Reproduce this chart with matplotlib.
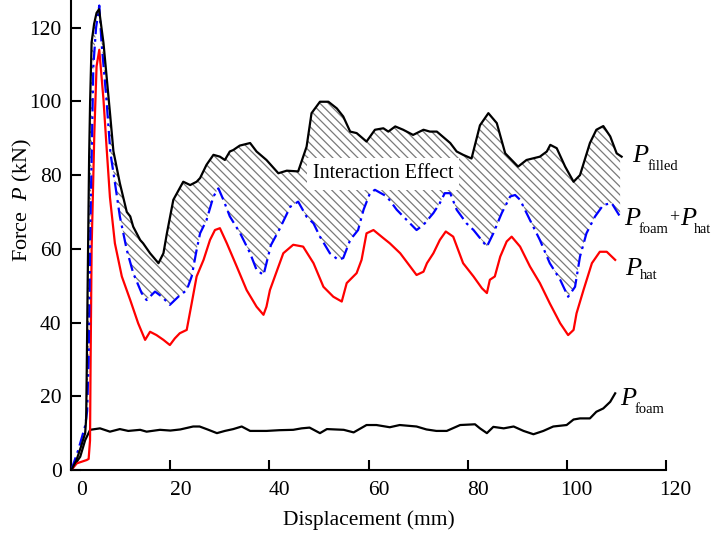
import numpy as np
import matplotlib
matplotlib.use('Agg')
import matplotlib.pyplot as plt
from matplotlib.transforms import ScaledTranslation

plt.rcParams['font.family'] = ['Liberation Serif', 'DejaVu Serif']
plt.rcParams['mathtext.fontset'] = 'custom'
plt.rcParams['mathtext.rm'] = 'Liberation Serif'
plt.rcParams['mathtext.it'] = 'Liberation Serif:italic'
plt.rcParams['hatch.linewidth'] = 0.9

# ---- data ----
filled_x = [0, 1, 2, 2.8, 3.0, 3.1, 3.3, 3.6, 3.8, 4.1, 4.6, 5.1, 5.6, 6.5, 7.8, 8.5, 9.8,
            11.2, 11.9, 12.5, 13.9, 14.5, 15.9, 17.6, 18.6, 19.3, 20.6, 22.6, 24, 25.3, 26,
            27.3, 28.7, 30, 31, 32, 32.7, 34, 36.1, 37.4, 39.4, 41.8, 43.5, 45.8, 47.5, 48.5,
            50.2, 51.9, 53.6, 54.9, 56.3, 57.6, 59.6, 61.3, 63, 64, 65.4, 67, 69, 71.1, 72.4,
            73.8, 76.5, 77.8, 79.1, 80.8, 82.5, 84.2, 85.9, 87.6, 90.2, 91.9, 94.6, 96, 96.7,
            98, 99.7, 101.4, 102.7, 104.7, 106, 107.4, 108.8, 110.1, 111.1]
filled_y = [0, 2.5, 6.5, 10, 14, 25, 50, 85, 100, 116, 121, 124, 125, 115.8, 97, 86.5, 77.8,
            70, 68.8, 66, 62.4, 61.5, 58.8, 56.1, 58.8, 64.2, 73.3, 78.2, 77.3, 78.2, 79.2,
            82.8, 85.5, 85, 84.1, 86.4, 86.8, 88, 88.7, 86.4, 84.1, 80.5, 81.2, 81, 87.7, 96.8,
            99.9, 99.9, 98.1, 95.9, 91.8, 91.4, 89.1, 92.3, 92.7, 91.8, 93.2, 92.3, 90.9, 92.3,
            91.8, 91.8, 88.7, 86.4, 85.5, 84.5, 93.5, 96.8, 94.1, 85.9, 82.3, 84.1, 85, 86.4,
            88.2, 87.3, 82.3, 78.2, 80, 88.7, 92.3, 93.3, 90.5, 85.9, 85]

sum_x = [0, 1.4, 2.8, 3.2, 3.5, 3.9, 4.45, 5.0, 5.65, 6.1, 7.1, 7.9, 8.8, 9.8, 11.2, 12.5,
         14.2, 15.2, 16.9, 18.3, 19.9, 21.6, 23.3, 24.3, 25.3, 26, 27.3, 28.7, 29.7, 30.7, 32,
         34.1, 36.1, 37.4, 38.8, 39.4, 40.3, 42.1, 44.2, 45.8, 47.5, 48.9, 50.2, 52.2, 53.9,
         54.9, 56.3, 57.9, 59, 60.3, 61.3, 63.7, 65.7, 67, 69.7, 71.1, 73.1, 74.4, 75.4, 76.5,
         77.8, 79.8, 81.2, 83.9, 85.2, 86.9, 88.6, 89.6, 90.6, 92.6, 94.6, 96.6, 98.7, 100.3,
         101.7, 102.7, 104, 105.7, 107.4, 109.1, 110.8]
sum_y = [0, 5.4, 12, 16, 30, 70, 109.5, 120, 126, 116, 100.4, 86, 78, 68.8, 59.7, 53.4,
         48, 46.1, 48.4, 47, 44.8, 47, 48.8, 52.5, 59.7, 64.2, 67.8, 74.2, 76.4, 73.3, 68.8,
         64.2, 58.8, 54.3, 52.9, 56.1, 61, 65.5, 71.4, 72.8, 68.7, 66.9, 63.3, 58.8, 57,
         57.5, 62.4, 65.1, 70.6, 75.1, 76, 74.2, 70.6, 68.8, 65.1, 66.5, 69.7, 72.4, 75.1, 75.1,
         70.6, 66.9, 65.1, 60.6, 64.2, 69.7, 74.2, 74.6, 73.3, 67.8, 62.4, 56.1, 51.6, 47,
         49.7, 57.9, 64.2, 68.7, 71.9, 72.4, 68.7]

hat_x = [0, 1.1, 3.1, 3.5, 3.78, 3.9, 4.1, 4.65, 5.1, 5.65, 6.5, 7.1, 7.8, 8.8, 10.2, 11.9,
         13.5, 14.9, 15.9, 17.2, 18.6, 19.9, 20.9, 21.9, 23.3, 24.3, 25.3, 26.7, 28, 29, 30,
         31.4, 33.4, 35.4, 37.4, 38.8, 39.4, 40.1, 41.5, 42.8, 44.8, 46.8, 48.9, 50.9, 52.9,
         54.6, 55.6, 57.6, 58.6, 59.6, 61, 63, 64.3, 66.4, 69.7, 71.1, 71.8, 73.1, 74.4, 75.6,
         77.1, 79.1, 81.2, 82.9, 83.9, 84.5, 85.5, 86.6, 87.9, 88.9, 90.6, 92.6, 94.6, 96.6,
         98.7, 100.3, 101.4, 102, 103.4, 105.1, 106.7, 108.1, 109.8]
hat_y = [0, 1.8, 2.7, 3, 8, 30, 60, 91.4, 109.5, 114, 100.4, 88, 74, 61.5, 52.5, 46.1,
         39.8, 35.3, 37.5, 36.6, 35.3, 33.9, 35.7, 37.1, 38, 45.2, 52.5, 57, 62.4, 65.1, 65.6,
         61.5, 55.2, 48.8, 44.3, 42.1, 44.3, 48.8, 54, 58.8, 61.1, 60.6, 56.1, 49.7, 47,
         45.7, 50.7, 53.4, 57, 64.2, 65.1, 62.9, 61.5, 58.8, 52.9, 53.8, 56.1, 58.8, 62.4, 64.7,
         63.3, 56.1, 52.5, 49.3, 48, 51.6, 52.5, 57.9, 62, 63.3, 60.6, 55.2, 50.7, 45.2,
         39.8, 36.6, 38, 42.5, 48.8, 56.1, 59.2, 59.2, 57]

foam_x = [0, 0.4, 1.8, 2.8, 3.8, 5.8, 7.8, 9.8, 11.5, 13.9, 15.2, 17.9, 20, 22, 24.6, 25.9,
          27.5, 29.4, 31, 32.7, 34.4, 36.1, 39.4, 42, 44.8, 46.5, 48.1, 50.2, 51.6, 55, 57,
          59.6, 61.6, 64.3, 66.3, 69.7, 71.7, 73.7, 75.8, 78.5, 81.5, 82.5, 83.9, 85.2, 87.3,
          89.3, 91.3, 93.3, 95.3, 97.3, 100, 101.4, 102.7, 104.7, 106, 107.4, 108.8, 109.8]
foam_y = [0, 0.9, 3.6, 8.1, 10.9, 11.3, 10.4, 11.1, 10.6, 10.9, 10.4, 10.9, 10.7, 11.0, 11.8,
          11.8, 11.0, 10.0, 10.6, 11.1, 11.8, 10.6, 10.6, 10.8, 10.9, 11.3, 11.5, 10.0, 11.1,
          10.9, 10.2, 12.2, 12.2, 11.6, 12.2, 11.8, 11.0, 10.6, 10.6, 12.2, 12.4, 11.3, 10.0,
          11.7, 11.3, 11.8, 10.6, 9.7, 10.6, 11.8, 12.2, 13.7, 14.0, 14.0, 15.8, 16.7, 18.5, 20.8]

x_ticks = [0, 20, 40, 60, 80, 100, 120]
y_ticks = [0, 20, 40, 60, 80, 100, 120]

# ---- figure ----
fig = plt.figure(figsize=(7.15, 5.33), dpi=100)
ax = fig.add_axes([71.3 / 715, 63 / 533, 594.4 / 715, 470 / 533])

# hatched interaction region between P_filled and P_foam+P_hat
grid = np.union1d(filled_x, sum_x)
grid = grid[grid <= min(filled_x[-1], sum_x[-1])]
top = np.interp(grid, filled_x, filled_y)
bot = np.interp(grid, sum_x, sum_y)
ax.fill_between(grid, bot, top, where=top >= bot, interpolate=True,
                facecolor='none', edgecolor='#7a7a7a', hatch='\\\\\\\\', linewidth=0, zorder=1)

ax.plot(foam_x, foam_y, color='black', lw=1.6, zorder=3)
ax.plot(hat_x, hat_y, color='#ff0000', lw=1.6, zorder=3)
ax.plot(sum_x, sum_y, color='#0000ff', lw=1.6, dashes=(6, 2.2, 1.2, 2.2), zorder=4)
ax.plot(filled_x, filled_y, color='black', lw=1.6, zorder=5)

ax.text(62.9, 80.3, 'Interaction Effect', fontsize=14.5, ha='center', va='center', zorder=2,
        bbox=dict(boxstyle='square,pad=0.3', facecolor='white', edgecolor='none'))

ax.set_xlim(0, 120)
ax.set_ylim(0, 127.5)
ax.set_xticks(x_ticks)
ax.set_yticks(y_ticks)
ax.spines['top'].set_visible(False)
ax.spines['right'].set_visible(False)
for s in ('left', 'bottom'):
    ax.spines[s].set_linewidth(1.5)
ax.tick_params(direction='in', length=7, width=1.5, labelsize=15.5)
ax.tick_params(axis='x', pad=8)
ax.tick_params(axis='y', pad=7)

offset = ScaledTranslation(0.1, 0, fig.dpi_scale_trans)
for lab in ax.get_xticklabels():
    lab.set_transform(lab.get_transform() + offset)

ax.set_xlabel('Displacement (mm)', fontsize=15.5, labelpad=7)
fig.text(22 / 715, 1 - 200 / 533, 'Force  $P$ (kN)', rotation=90, fontsize=16,
         ha='center', va='center')


# curve labels: italic P with a roman subscript, placed in image pixels
def plabel(px, py, sub, sub_dx, sub_dy=8, sub_size=10.5):
    ax.annotate('P', xy=(px, 533 - py), xycoords='figure pixels', fontsize=19,
                style='italic', ha='left', va='baseline', annotation_clip=False)
    ax.annotate(sub, xy=(px + sub_dx, 533 - py - sub_dy), xycoords='figure pixels',
                fontsize=sub_size, ha='left', va='baseline', annotation_clip=False)


plabel(632, 162, 'filled', 16)
plabel(624, 225, 'foam', 15)
ax.annotate('+', xy=(669, 533 - 222), xycoords='figure pixels', fontsize=13,
            ha='left', va='baseline', annotation_clip=False)
plabel(680, 225, 'hat', 14, sub_size=10)
plabel(625, 275, 'hat', 15, 4)
plabel(620, 405, 'foam', 15)

fig.savefig('out.png', dpi=100)
